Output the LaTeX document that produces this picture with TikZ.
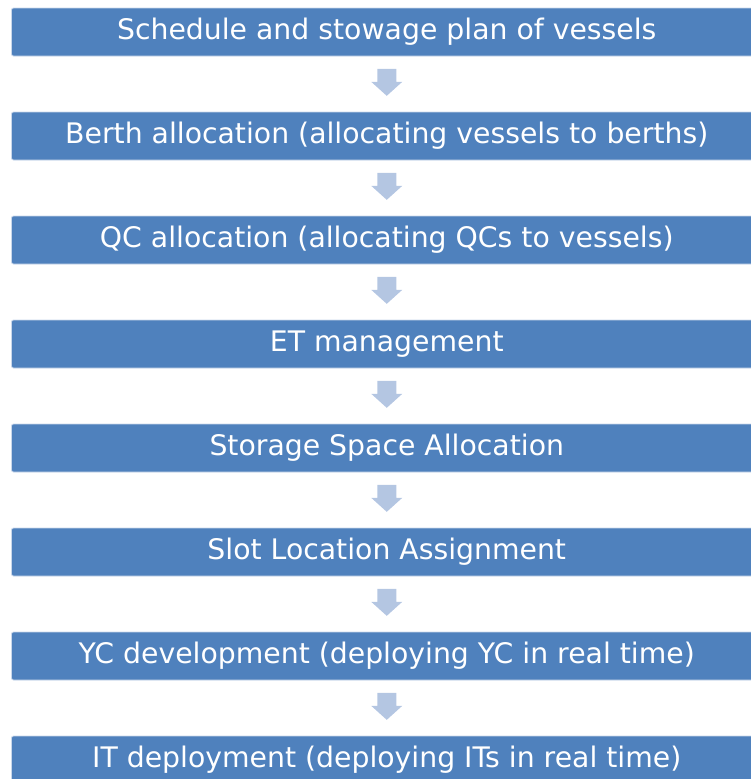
\documentclass[tikz,border=0pt]{standalone}
\usepackage{fontspec}
\setmainfont{DejaVu Sans}
\definecolor{boxblue}{HTML}{4F81BD}
\definecolor{arrowblue}{HTML}{B4C6E2}
\definecolor{edgeblue}{HTML}{C9D7EA}
\begin{document}
\begin{tikzpicture}[x=1pt,y=1pt,
  stepbox/.style={draw=edgeblue,line width=0.8pt,fill=boxblue,rounded corners=2pt,
    minimum width=750.5pt,minimum height=48pt,inner sep=0pt,text=white,
    text height=25pt,text depth=10pt,
    font=\fontsize{28.3}{30}\selectfont},
  downarrow/.style={fill=arrowblue}]
\useasboundingbox (0,0) rectangle (751,-779);
\foreach \t [count=\i] in {Schedule and stowage plan of vessels,
  Berth allocation (allocating vessels to berths),
  QC allocation (allocating QCs to vessels),
  ET management,
  Storage Space Allocation,
  Slot Location Assignment,
  YC development (deploying YC in real time),
  IT deployment (deploying ITs in real time)}{
  \node[stepbox] (b\i) at (386.75,{-32-104*(\i-1)}) {\t};
}
\foreach \i [evaluate=\i as \j using int(\i+1)] in {1,...,7}{
  \path (b\i.south) -- (b\j.north) coordinate[pos=0.47] (m\i);
  \fill[downarrow] ([shift={(-9.5,13.5)}]m\i) -- ([shift={(9.5,13.5)}]m\i)
    -- ([shift={(9.5,0.5)}]m\i) -- ([shift={(15.5,0.5)}]m\i)
    -- ([shift={(0,-13.5)}]m\i) -- ([shift={(-15.5,0.5)}]m\i)
    -- ([shift={(-9.5,0.5)}]m\i) -- cycle;
}
\end{tikzpicture}
\end{document}
